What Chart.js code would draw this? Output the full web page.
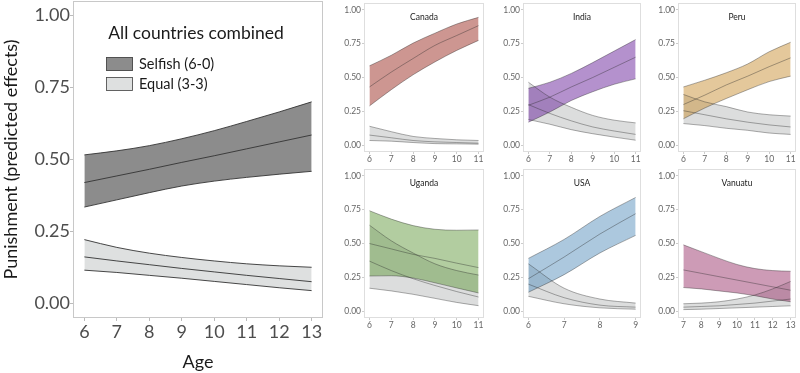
<!DOCTYPE html>
<html>
<head>
<meta charset="utf-8">
<script src="https://cdn.jsdelivr.net/npm/chart.js@4.4.0/dist/chart.umd.min.js"></script>
<style>
  body { margin: 0; background: #fff; }
  #wrap { position: relative; width: 800px; height: 373px; overflow: hidden; }
  .p { position: absolute; }
</style>
</head>
<body>
<div id="wrap">
  <div class="p" style="left:0;top:0;width:330px;height:373px"><canvas id="main"></canvas></div>
  <div class="p" style="left:330px;top:0;width:160px;height:168px"><canvas id="canada"></canvas></div>
  <div class="p" style="left:490px;top:0;width:155px;height:168px"><canvas id="india"></canvas></div>
  <div class="p" style="left:645px;top:0;width:155px;height:168px"><canvas id="peru"></canvas></div>
  <div class="p" style="left:330px;top:166px;width:160px;height:168px"><canvas id="uganda"></canvas></div>
  <div class="p" style="left:490px;top:166px;width:155px;height:168px"><canvas id="usa"></canvas></div>
  <div class="p" style="left:645px;top:166px;width:155px;height:168px"><canvas id="vanuatu"></canvas></div>
</div>
<script>
// y ticks shared by every panel
var yTicks = [0, 0.25, 0.5, 0.75, 1];
var seriesNames = ["Selfish (6-0)", "Equal (3-3)"];

// all countries combined
var allAges = [6, 7, 8, 9, 10, 11, 12, 13];
var allSelfishFit  = [0.420, 0.443, 0.466, 0.490, 0.513, 0.537, 0.561, 0.585];
var allSelfishLow  = [0.335, 0.360, 0.385, 0.408, 0.425, 0.438, 0.449, 0.459];
var allSelfishHigh = [0.516, 0.530, 0.548, 0.572, 0.600, 0.632, 0.665, 0.700];
var allEqualFit    = [0.162, 0.148, 0.135, 0.122, 0.110, 0.098, 0.087, 0.076];
var allEqualLow    = [0.116, 0.108, 0.098, 0.088, 0.077, 0.066, 0.055, 0.045];
var allEqualHigh   = [0.222, 0.195, 0.175, 0.160, 0.148, 0.138, 0.131, 0.126];

// Canada
var canadaAges = [6, 7, 8, 9, 10, 11];
var canadaSelfishFit  = [0.430, 0.540, 0.640, 0.737, 0.810, 0.883];
var canadaSelfishLow  = [0.290, 0.410, 0.520, 0.615, 0.700, 0.774];
var canadaSelfishHigh = [0.586, 0.664, 0.754, 0.827, 0.895, 0.944];
var canadaEqualFit    = [0.075, 0.055, 0.035, 0.025, 0.020, 0.015];
var canadaEqualLow    = [0.035, 0.030, 0.020, 0.012, 0.010, 0.008];
var canadaEqualHigh   = [0.140, 0.100, 0.065, 0.050, 0.040, 0.035];

// India
var indiaAges = [6, 7, 8, 9, 10, 11];
var indiaSelfishFit  = [0.295, 0.355, 0.430, 0.500, 0.575, 0.650];
var indiaSelfishLow  = [0.170, 0.245, 0.330, 0.395, 0.450, 0.490];
var indiaSelfishHigh = [0.420, 0.465, 0.530, 0.610, 0.695, 0.780];
var indiaEqualFit    = [0.300, 0.235, 0.180, 0.135, 0.105, 0.080];
var indiaEqualLow    = [0.190, 0.155, 0.115, 0.085, 0.060, 0.037];
var indiaEqualHigh   = [0.465, 0.355, 0.280, 0.220, 0.185, 0.165];

// Peru
var peruAges = [6, 7, 8, 9, 10, 11];
var peruSelfishFit  = [0.300, 0.370, 0.445, 0.510, 0.580, 0.645];
var peruSelfishLow  = [0.195, 0.275, 0.345, 0.410, 0.470, 0.510];
var peruSelfishHigh = [0.430, 0.480, 0.535, 0.600, 0.690, 0.760];
var peruEqualFit    = [0.255, 0.225, 0.195, 0.170, 0.150, 0.135];
var peruEqualLow    = [0.160, 0.145, 0.125, 0.110, 0.090, 0.080];
var peruEqualHigh   = [0.375, 0.320, 0.285, 0.245, 0.225, 0.215];

// Uganda
var ugandaAges = [6, 7, 8, 9, 10, 11];
var ugandaSelfishFit  = [0.500, 0.460, 0.420, 0.390, 0.355, 0.322];
var ugandaSelfishLow  = [0.260, 0.262, 0.245, 0.210, 0.172, 0.135];
var ugandaSelfishHigh = [0.742, 0.680, 0.632, 0.605, 0.598, 0.600];
var ugandaEqualFit    = [0.370, 0.300, 0.240, 0.190, 0.145, 0.105];
var ugandaEqualLow    = [0.170, 0.150, 0.125, 0.095, 0.065, 0.041];
var ugandaEqualHigh   = [0.635, 0.520, 0.430, 0.350, 0.300, 0.267];

// USA
var usaAges = [6, 7, 8, 9];
var usaSelfishFit  = [0.240, 0.400, 0.570, 0.720];
var usaSelfishLow  = [0.140, 0.270, 0.430, 0.560];
var usaSelfishHigh = [0.390, 0.530, 0.700, 0.840];
var usaEqualFit    = [0.200, 0.100, 0.045, 0.030];
var usaEqualLow    = [0.110, 0.055, 0.025, 0.015];
var usaEqualHigh   = [0.350, 0.170, 0.090, 0.060];

// Vanuatu
var vanuatuAges = [7, 8, 9, 10, 11, 12, 13];
var vanuatuSelfishFit  = [0.305, 0.280, 0.255, 0.230, 0.205, 0.180, 0.155];
var vanuatuSelfishLow  = [0.175, 0.165, 0.150, 0.135, 0.115, 0.090, 0.070];
var vanuatuSelfishHigh = [0.490, 0.440, 0.390, 0.345, 0.315, 0.300, 0.295];
var vanuatuEqualFit    = [0.030, 0.035, 0.040, 0.050, 0.060, 0.075, 0.090];
var vanuatuEqualLow    = [0.012, 0.015, 0.020, 0.025, 0.030, 0.035, 0.040];
var vanuatuEqualHigh   = [0.055, 0.060, 0.070, 0.090, 0.120, 0.165, 0.220];

var FONT = "Lato, 'Open Sans', sans-serif";

// draws the panel box, the country title and (main only) the legend
var panelDecor = {
    id: 'panelDecor',
    afterDraw: function(chart, args, opts) {
        var ctx = chart.ctx, a = chart.chartArea;
        ctx.save();
        ctx.strokeStyle = opts.border || '#ccc';
        ctx.lineWidth = 1;
        ctx.strokeRect(a.left + 0.5, a.top + 0.5, a.right - a.left - 1, a.bottom - a.top - 1);
        if (opts.title) {
            ctx.fillStyle = '#1a1a1a';
            ctx.font = opts.titleSize + 'px ' + FONT;
            ctx.textAlign = 'center';
            ctx.textBaseline = 'middle';
            ctx.fillText(opts.title, opts.titleX != null ? opts.titleX : (a.left + a.right) / 2, a.top + opts.titleDy);
        }
        if (opts.legend) {
            ctx.font = '14.5px ' + FONT;
            ctx.textAlign = 'left';
            ctx.textBaseline = 'middle';
            opts.legend.forEach(function(item, i) {
                var y = 57 + i * 20;
                ctx.fillStyle = '#fff';
                ctx.fillRect(106, y, 27, 14);
                ctx.fillStyle = item.fill;
                ctx.fillRect(106, y, 27, 14);
                ctx.strokeStyle = '#444';
                ctx.lineWidth = 0.8;
                ctx.strokeRect(106.5, y + 0.5, 26, 13);
                ctx.fillStyle = '#1a1a1a';
                ctx.fillText(item.label, 139, y + 7.5);
            });
        }
        ctx.restore();
    }
};
Chart.register(panelDecor);

function pts(ages, vals) {
    return ages.map(function(a, i) { return {x: a, y: vals[i]}; });
}

function band(ages, fit, lo, hi, fill, line, lw) {
    var base = {
        borderColor: line,
        borderWidth: lw,
        pointRadius: 0,
        cubicInterpolationMode: 'monotone'
    };
    return [
        Object.assign({data: pts(ages, hi), fill: '+1', backgroundColor: fill}, base),
        Object.assign({data: pts(ages, lo), fill: false}, base),
        Object.assign({data: pts(ages, fit), fill: false}, base)
    ];
}

function makeChart(id, ages, sets, cfg) {
    var span = ages[ages.length - 1] - ages[0];
    return new Chart(document.getElementById(id).getContext('2d'), {
        type: 'line',
        data: {datasets: sets},
        options: {
            responsive: true,
            maintainAspectRatio: false,
            animation: false,
            layout: {padding: {top: cfg.top, right: cfg.right, left: 0, bottom: 0}},
            plugins: {
                legend: {display: false},
                tooltip: {enabled: false},
                filler: {drawTime: 'beforeDatasetsDraw'},
                panelDecor: cfg.decor
            },
            scales: {
                x: {
                    type: 'linear',
                    min: ages[0] - span * 0.05,
                    max: ages[ages.length - 1] + span * 0.05,
                    afterBuildTicks: function(s) { s.ticks = ages.map(function(v) { return {value: v}; }); },
                    afterFit: function(s) { s.height = cfg.xH; s.paddingLeft = 0; s.paddingRight = 0; },
                    border: {display: false},
                    grid: {drawOnChartArea: false, tickLength: cfg.tick, color: cfg.tickColor},
                    ticks: {font: {family: FONT, size: cfg.fs}, color: cfg.tc, padding: cfg.xPad, maxRotation: 0, autoSkip: false},
                    title: cfg.xTitle ? {display: true, text: cfg.xTitle, font: {family: FONT, size: cfg.titleFs}, color: '#1a1a1a', padding: {top: 0, bottom: 0}} : {display: false}
                },
                y: {
                    min: -0.05,
                    max: 1.05,
                    afterBuildTicks: function(s) { s.ticks = yTicks.map(function(v) { return {value: v}; }); },
                    afterFit: function(s) { s.width = cfg.yW; s.paddingTop = 0; s.paddingBottom = 0; },
                    border: {display: false},
                    grid: {drawOnChartArea: false, tickLength: cfg.tick, color: cfg.tickColor},
                    ticks: {font: {family: FONT, size: cfg.fs}, color: cfg.tc, padding: cfg.yPad, callback: function(v) { return v.toFixed(2); }},
                    title: cfg.yTitle ? {display: true, text: cfg.yTitle, font: {family: FONT, size: cfg.titleFs}, color: '#1a1a1a', padding: {top: 0, bottom: 0}} : {display: false}
                }
            }
        }
    });
}

// main panel
var mainSelfishFill = 'rgba(46,46,46,0.55)';
var mainEqualFill = 'rgba(195,199,199,0.55)';
makeChart('main', allAges,
    band(allAges, allSelfishFit, allSelfishLow, allSelfishHigh, mainSelfishFill, '#333', 0.9)
        .concat(band(allAges, allEqualFit, allEqualLow, allEqualHigh, mainEqualFill, '#333', 0.9)),
    {top: 1, right: 7, xH: 55, yW: 73, fs: 18, tc: '#4d4d4d', tick: 3, tickColor: '#bbb', xPad: 0, yPad: 0,
     titleFs: 18, xTitle: 'Age', yTitle: 'Punishment (predicted effects)',
     decor: {border: '#c8c8c8', title: 'All countries combined', titleSize: 17.5, titleDy: 32, titleX: 196,
             legend: [{label: seriesNames[0], fill: mainSelfishFill}, {label: seriesNames[1], fill: mainEqualFill}]}});

var grayFill = 'rgba(191,193,193,0.55)';
var lineCol = 'rgba(40,40,40,0.55)';
var countries = [
    ['canada', 'Canada', canadaAges, canadaSelfishFit, canadaSelfishLow, canadaSelfishHigh, canadaEqualFit, canadaEqualLow, canadaEqualHigh, 'rgba(155,45,35,0.5)', 34, 6],
    ['india', 'India', indiaAges, indiaSelfishFit, indiaSelfishLow, indiaSelfishHigh, indiaEqualFit, indiaEqualLow, indiaEqualHigh, 'rgba(105,35,155,0.5)', 33, 4],
    ['peru', 'Peru', peruAges, peruSelfishFit, peruSelfishLow, peruSelfishHigh, peruEqualFit, peruEqualLow, peruEqualHigh, 'rgba(201,145,55,0.5)', 33, 4],
    ['uganda', 'Uganda', ugandaAges, ugandaSelfishFit, ugandaSelfishLow, ugandaSelfishHigh, ugandaEqualFit, ugandaEqualLow, ugandaEqualHigh, 'rgba(101,155,65,0.5)', 34, 6],
    ['usa', 'USA', usaAges, usaSelfishFit, usaSelfishLow, usaSelfishHigh, usaEqualFit, usaEqualLow, usaEqualHigh, 'rgba(89,145,189,0.5)', 33, 4],
    ['vanuatu', 'Vanuatu', vanuatuAges, vanuatuSelfishFit, vanuatuSelfishLow, vanuatuSelfishHigh, vanuatuEqualFit, vanuatuEqualLow, vanuatuEqualHigh, 'rgba(155,55,109,0.5)', 33, 4]
];

countries.forEach(function(c) {
    var sets = band(c[2], c[3], c[4], c[5], c[9], lineCol, 0.7)
        .concat(band(c[2], c[6], c[7], c[8], grayFill, lineCol, 0.7));
    makeChart(c[0], c[2], sets,
        {top: 3, right: c[11], xH: 16, yW: c[10], fs: 8.5, tc: '#666', tick: 2, tickColor: '#ccc', xPad: 0, yPad: 1,
         decor: {border: '#dedede', title: c[1], titleSize: 8.5, titleDy: 14}});
});
</script>
</body>
</html>
